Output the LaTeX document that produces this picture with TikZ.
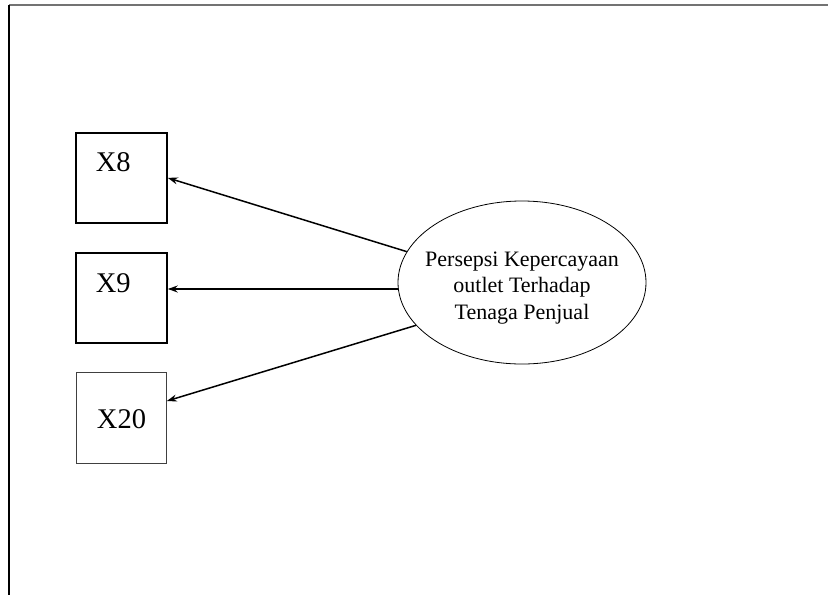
\documentclass[tikz,border=0pt]{standalone}
\usepackage{fontspec}
\setmainfont{Liberation Serif}
\usetikzlibrary{arrows.meta,calc,positioning}
\usetikzlibrary{shapes.geometric}
\begin{document}
\begin{tikzpicture}[x=1pt,y=-1pt,
every node/.style={inner sep=0pt},
ind/.style={draw,line width=1.5pt,font=\fontsize{28.5}{34}\selectfont},
lat/.style={ellipse,draw,line width=0.8pt,minimum width=248pt,minimum height=163pt,
  inner xsep=-12pt,align=center,font=\fontsize{22}{26.5}\selectfont},
arr/.style={line width=1.5pt,-{Stealth[length=10pt,width=7pt]}}]
\useasboundingbox (0,0) rectangle (828,595);
\draw[black!55,line width=1.2pt] (9,5) -- (828,5);
\draw[line width=1.2pt] (9,5) -- (9,595);
\node[ind,text width=51.3pt,inner xsep=19.9pt,align=left,text height=39pt,text depth=51.3pt] (X8) at (121.5,177.9) {X8};
\node[ind,text width=51.3pt,inner xsep=19.9pt,align=left,text height=39.3pt,text depth=50.7pt] (X9) at (121.5,298) {X9};
\node[ind,line width=0.7pt,draw=black!75,minimum width=90pt,text height=56pt,text depth=35pt] (X20) at (121.5,417.5) {X20};
\node[lat] (P) at (522,282.5) {\rule{0pt}{25pt}Persepsi Kepercayaan\\outlet Terhadap\\Tenaga Penjual};
\draw[arr] (P.165.6) -- (X8.east);
\draw[arr] (P.183.5) -- (P.183.5 -| X9.east);
\draw[arr] (P.202.2) -- ($(X20.east)!0.36!(X20.north east)$);
\end{tikzpicture}
\end{document}
